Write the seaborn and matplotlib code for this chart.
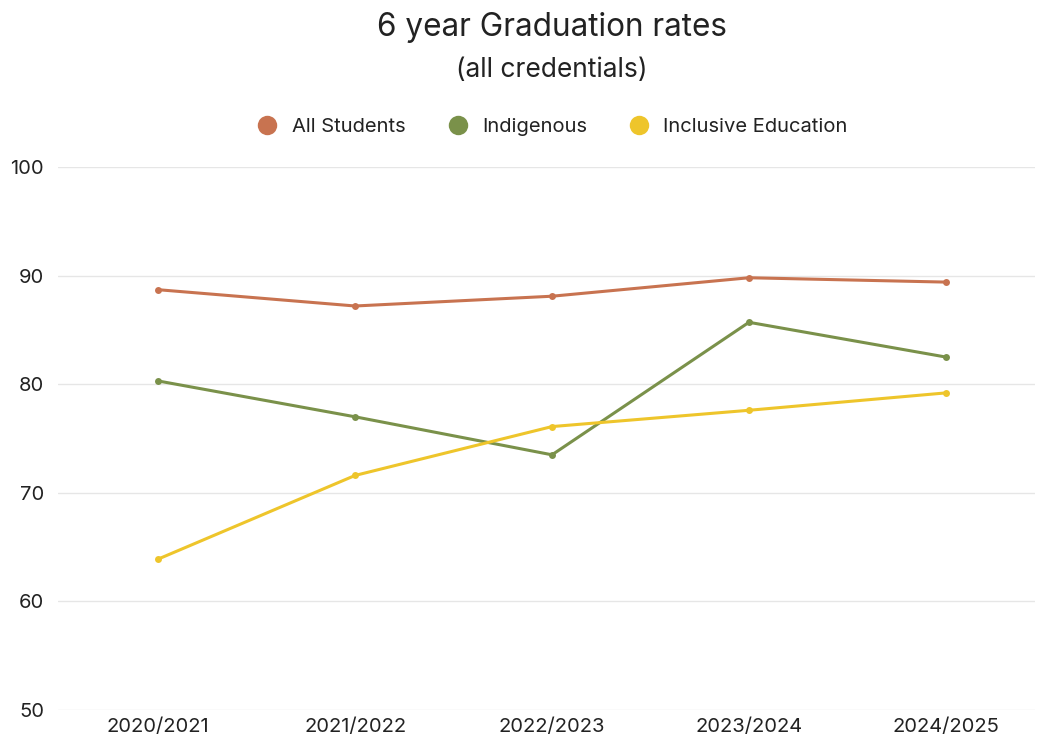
import matplotlib.pyplot as plt
import seaborn as sns
import pandas as pd

# data
years = ['2020/2021', '2021/2022', '2022/2023', '2023/2024', '2024/2025']
all_students = [88.7, 87.2, 88.1, 89.8, 89.4]
indigenous = [80.3, 77.0, 73.5, 85.7, 82.5]
inclusive_ed = [63.9, 71.6, 76.1, 77.6, 79.2]

series = ['All Students', 'Indigenous', 'Inclusive Education']
colors = ['#C87350', '#7A914A', '#EEC52B']

df = pd.DataFrame({
    'year': years * 3,
    'rate': all_students + indigenous + inclusive_ed,
    'group': [s for s in series for _ in years],
})

sns.set_style('white')
plt.rcParams['font.family'] = ['Inter', 'DejaVu Sans']

fig = plt.figure(figsize=(10.37, 7.42), dpi=100)
ax = fig.add_axes([0.056, 0.043, 0.942, 0.732])

sns.lineplot(data=df, x='year', y='rate', hue='group', palette=colors,
             marker='o', markersize=5, markeredgewidth=0, linewidth=2.2,
             sort=False, ax=ax, legend=False)

ax.set_ylim(50, 100)
ax.set_xlim(-0.508, 4.452)
ax.set_yticks([50, 60, 70, 80, 90, 100])
ax.grid(axis='y', color='#E6E6E6', linewidth=1)
ax.set_axisbelow(True)
for s in ax.spines.values():
    s.set_visible(False)
ax.tick_params(axis='both', length=0, labelsize=14.5, labelcolor='#222222')
ax.tick_params(axis='x', pad=6)
ax.tick_params(axis='y', pad=10)
ax.set_xlabel('')
ax.set_ylabel('')

fig.text(0.532, 0.963, '6 year Graduation rates', ha='center', va='center',
         fontsize=22.7, color='#222222')
fig.text(0.532, 0.905, '(all credentials)', ha='center', va='center',
         fontsize=19, color='#222222')

handles = [plt.Line2D([], [], marker='o', linestyle='', markersize=14,
                      markerfacecolor=c, markeredgewidth=0) for c in colors]
fig.legend(handles, series, loc='center', bbox_to_anchor=(0.528, 0.829),
           ncol=3, frameon=False, fontsize=14.5, handletextpad=0.2,
           columnspacing=1.6, labelcolor='#222222')

fig.savefig('out.png', dpi=100)
